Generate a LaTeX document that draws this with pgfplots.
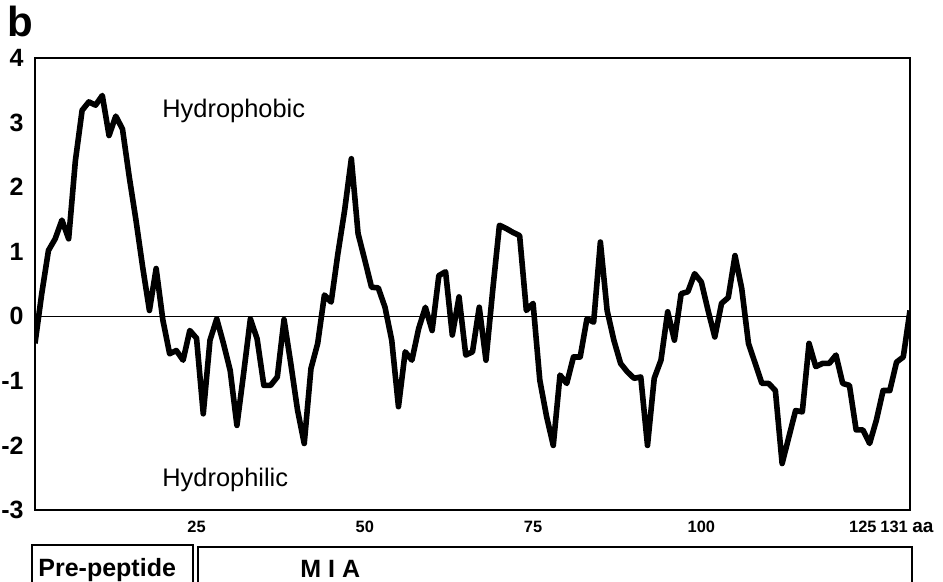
\documentclass[border=0pt]{standalone}
\usepackage{fontspec}
\setmainfont{Liberation Sans}
\usepackage{pgfplots}
\pgfplotsset{compat=1.18}

\begin{document}
\begin{tikzpicture}
% pixel grid of the reference: 1 px = 0.5 pt, y downwards
\useasboundingbox (0pt,0pt) rectangle (471.5pt,-291pt);

\begin{axis}[
    at={(17.5pt,-255pt)}, anchor=south west,
    scale only axis, width=437.5pt, height=226pt,
    xmin=1, xmax=131, ymin=-3, ymax=4,
    xtick={25,50,75,100}, ytick={-3,-2,...,4},
    extra x ticks={124}, extra x tick labels={125},
    major tick length=0pt,
    axis line style={line width=0.6pt},
    /pgf/number format/assume math mode=true,
    yticklabel style={font=\bfseries\fontsize{12.5}{12.5}\selectfont, xshift=-2.2pt},
    xticklabel style={font=\bfseries\fontsize{8.2}{8.2}\selectfont, anchor=base, yshift=-11.5pt},
]
% zero line
\addplot[black, line width=0.7pt] coordinates {(1,0) (131,0)};
% hydropathy profile
\addplot[black, line width=2.8pt, line join=round] table {
x y
1 -0.42
2 0.35
3 1.02
4 1.20
5 1.49
6 1.20
7 2.41
8 3.19
9 3.32
10 3.27
11 3.42
12 2.80
13 3.10
14 2.90
15 2.16
16 1.49
17 0.76
18 0.09
19 0.74
20 -0.06
21 -0.58
22 -0.53
23 -0.68
24 -0.22
25 -0.34
26 -1.51
27 -0.37
28 -0.04
29 -0.42
30 -0.84
31 -1.69
32 -0.88
33 -0.04
34 -0.35
35 -1.07
36 -1.07
37 -0.94
38 -0.05
39 -0.73
40 -1.45
41 -1.97
42 -0.81
43 -0.42
44 0.33
45 0.22
46 0.97
47 1.64
48 2.44
49 1.28
50 0.87
51 0.45
52 0.44
53 0.14
54 -0.37
55 -1.40
56 -0.55
57 -0.68
58 -0.19
59 0.14
60 -0.22
61 0.63
62 0.69
63 -0.29
64 0.30
65 -0.60
66 -0.55
67 0.14
68 -0.68
69 0.40
70 1.41
71 1.36
72 1.30
73 1.25
74 0.09
75 0.20
76 -0.99
77 -1.55
78 -2.00
79 -0.91
80 -1.04
81 -0.63
82 -0.63
83 -0.04
84 -0.09
85 1.15
86 0.09
87 -0.37
88 -0.73
89 -0.86
90 -0.96
91 -0.94
92 -2.00
93 -0.96
94 -0.68
95 0.07
96 -0.37
97 0.35
98 0.38
99 0.66
100 0.53
101 0.09
102 -0.32
103 0.20
104 0.29
105 0.94
106 0.43
107 -0.42
108 -0.73
109 -1.04
110 -1.04
111 -1.15
112 -2.28
113 -1.87
114 -1.46
115 -1.48
116 -0.42
117 -0.78
118 -0.73
119 -0.73
120 -0.60
121 -1.04
122 -1.07
123 -1.76
124 -1.76
125 -1.97
126 -1.61
127 -1.15
128 -1.15
129 -0.71
130 -0.63
131 0.09
};
\end{axis}

\begin{scope}[x=0.5pt,y=-0.5pt]
\node[anchor=base west, inner sep=0, font=\bfseries\fontsize{21}{21}\selectfont] at (7,37) {b};
\node[anchor=base west, inner sep=0, font=\fontsize{12.7}{12.7}\selectfont] at (162,118) {Hydrophobic};
\node[anchor=base west, inner sep=0, font=\fontsize{12.7}{12.7}\selectfont] at (162,487) {Hydrophilic};
\node[anchor=base west, inner sep=0, font=\bfseries\fontsize{8.2}{8.2}\selectfont] at (880,533) {131 \fontsize{9.5}{9.5}\selectfont aa};
\draw[line width=1pt] (32,600) -- (32,545) -- (193,545) -- (193,600);
\draw[line width=1pt] (198,600) -- (198,547) -- (912,547) -- (912,600);
\node[anchor=base west, inner sep=0, font=\bfseries\fontsize{12.5}{12.5}\selectfont] at (38,577) {Pre-peptide};
\node[anchor=base west, inner sep=0, font=\bfseries\fontsize{12.5}{12.5}\selectfont] at (300,578) {M I A};
\end{scope}
\end{tikzpicture}
\end{document}
